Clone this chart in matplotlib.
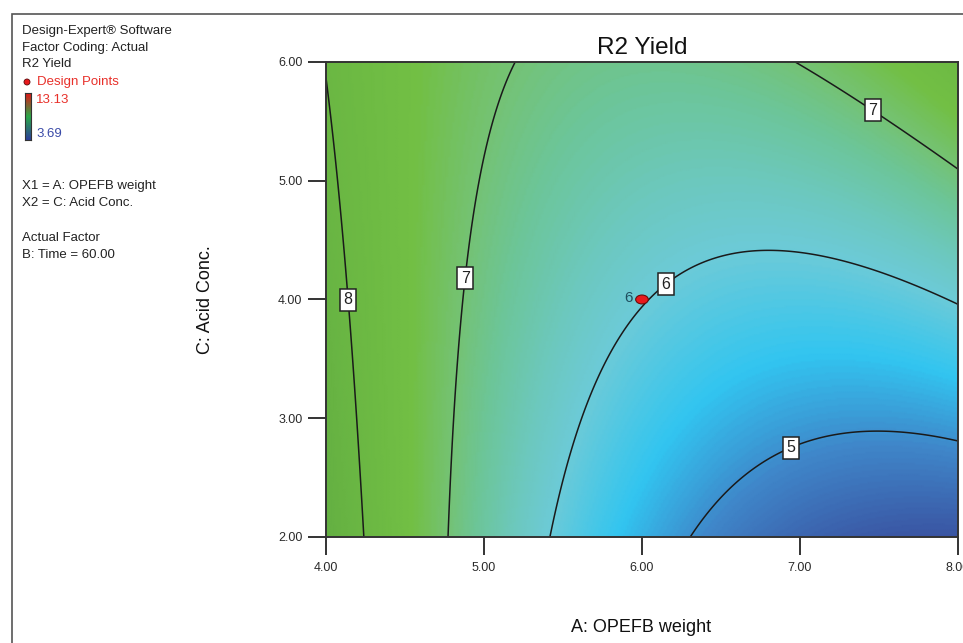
import numpy as np
import matplotlib
matplotlib.use("Agg")
import matplotlib.pyplot as plt
from matplotlib.colors import LinearSegmentedColormap
from matplotlib.patches import Ellipse, Rectangle

plt.rcParams['font.family'] = ['Liberation Sans', 'DejaVu Sans']

# quadratic model in coded units (a = (A-6)/2, c = (C-4)/2)
# terms: intercept, a, c, a^2, c^2, a*c
model_coef = [6.0231, -1.0955, 0.7449, 1.1080, 0.0164, 1.0029]
a_range = [4.0, 8.0]
c_range = [2.0, 6.0]
y_min, y_max = 3.69, 13.13
contour_levels = [5, 6, 7, 8]
label_spots = [(4.146, 4.0), (4.873, 4.18), (7.487, 5.646), (6.114, 4.19), (6.918, 2.834)]
design_a = [6.0]
design_c = [4.0]
design_count = ["6"]
x_ticks = [4.0, 5.0, 6.0, 7.0, 8.0]
y_ticks = [2.0, 3.0, 4.0, 5.0, 6.0]

# colour stops as (value, colour) - Design-Expert style blue/cyan/green
stops = [(3.69, "#2f3f95"), (4.3, "#3a55a3"), (4.9, "#3f86c9"), (5.45, "#32c5f0"),
         (6.0, "#6ccad8"), (6.3, "#6cc8c0"), (6.7, "#6cc598"), (7.0, "#74c274"),
         (7.4, "#72bf44"), (8.5, "#64b042"), (10.5, "#e8e020"), (13.13, "#e02020")]
cmap = LinearSegmentedColormap.from_list(
    "de", [((v - y_min) / (y_max - y_min), col) for v, col in stops])

fig = plt.figure(figsize=(9.63, 6.43), dpi=100)

# outer frame of the graph window
fig.patches.append(Rectangle((12 / 963, -0.1), 1.2, 1 - 14 / 643 + 0.1,
                             transform=fig.transFigure, fill=False,
                             edgecolor="#555555", linewidth=1.2))

ax = fig.add_axes([0.3385, 0.1649, 0.6563, 0.7387])
A, C = np.meshgrid(np.linspace(*a_range, 300), np.linspace(*c_range, 300))
aa, cc = (A - 6) / 2, (C - 4) / 2
b = model_coef
Y = b[0] + b[1] * aa + b[2] * cc + b[3] * aa**2 + b[4] * cc**2 + b[5] * aa * cc

ax.pcolormesh(A, C, Y, cmap=cmap, vmin=y_min, vmax=y_max, shading="gouraud")
cs = ax.contour(A, C, Y, levels=contour_levels, colors="#1a1a1a", linewidths=1.1)
labels = ax.clabel(cs, fmt="%d", manual=label_spots, inline=False, fontsize=11.5)
for t in labels:
    t.set_rotation(0)
    t.set_color("#222222")
    t.set_bbox(dict(boxstyle="square,pad=0.22", fc="white", ec="#222222", lw=1.1))
    t.set_zorder(5)

for xa, yc, n in zip(design_a, design_c, design_count):
    ax.add_patch(Ellipse((xa, yc), 0.08, 0.075, fc="#e8191c", ec="#6a0c0c", lw=0.8, zorder=6))
    ax.text(xa - 0.06, yc + 0.01, n, ha="right", va="center", fontsize=11,
            color="#1f4f5f", zorder=6)

ax.set_xlim(a_range)
ax.set_ylim(c_range)
ax.set_xticks(x_ticks)
ax.set_yticks(y_ticks)
ax.set_xticklabels([f"{v:.2f}" for v in x_ticks])
ax.set_yticklabels([f"{v:.2f}" for v in y_ticks])
ax.tick_params(direction="out", length=13, width=1.4, color="#333333",
               labelsize=9, labelcolor="#2a2a2a", pad=4)
ax.tick_params(axis="x", pad=5)
for sp in ax.spines.values():
    sp.set_color("#333333")
    sp.set_linewidth(1.4)

ax.set_title("R2 Yield", fontsize=17.5, color="#111111", pad=6)
fig.text(641 / 963, 1 - 628 / 643, "A: OPEFB weight", ha="center", va="center",
         fontsize=13, color="#111111")
fig.text(205 / 963, 1 - 300 / 643, "C: Acid Conc.", ha="center", va="center",
         rotation=90, fontsize=13, color="#111111")

# legend block on the left
info = [("Design-Expert® Software", 31), ("Factor Coding: Actual", 48),
        ("R2 Yield", 64), ("X1 = A: OPEFB weight", 186),
        ("X2 = C: Acid Conc.", 203), ("Actual Factor", 238),
        ("B: Time = 60.00", 255)]
for txt, yp in info:
    fig.text(22 / 963, 1 - yp / 643, txt, ha="left", va="center", fontsize=9.5, color="#222222")
fig.text(37 / 963, 1 - 82 / 643, "Design Points", ha="left", va="center",
         fontsize=9.5, color="#e8302a")
fig.text(36 / 963, 1 - 100 / 643, f"{y_max:.2f}", ha="left", va="center",
         fontsize=9.5, color="#e8302a")
fig.text(36 / 963, 1 - 134 / 643, f"{y_min:.2f}", ha="left", va="center",
         fontsize=9.5, color="#3a4aa8")
fig.add_artist(Ellipse((27 / 963, 1 - 82 / 643), 6 / 963, 6 / 643, transform=fig.transFigure,
                       fc="#e8191c", ec="#5a0a0a", lw=0.6))

cax = fig.add_axes([25 / 963, 1 - 140 / 643, 6 / 963, 47 / 643])
bar_cmap = LinearSegmentedColormap.from_list("bar", ["#2c3e9a", "#2aa848", "#e01818"])
cax.imshow(np.linspace(1, 0, 100)[:, None], aspect="auto", cmap=bar_cmap)
cax.set_xticks([])
cax.set_yticks([])
for sp in cax.spines.values():
    sp.set_color("#333333")
    sp.set_linewidth(0.8)

fig.savefig("out.png")
